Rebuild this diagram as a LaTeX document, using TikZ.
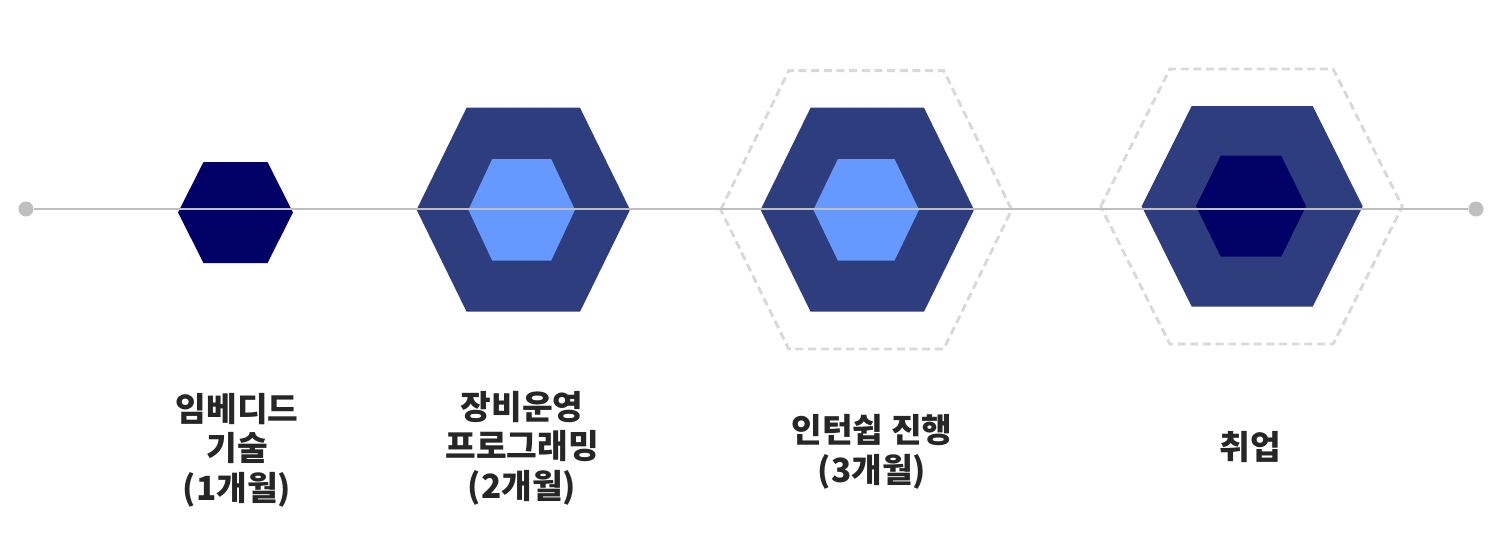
\documentclass[tikz,border=0pt]{standalone}
\usepackage{fontspec}
\setmainfont{Noto Sans CJK KR}
\usepackage{tikz}
\definecolor{navy}{RGB}{0,0,102}
\definecolor{hexblue}{RGB}{46,61,126}
\definecolor{skyblue}{RGB}{102,153,255}
\definecolor{guidegray}{RGB}{191,191,191}
\definecolor{dashgray}{RGB}{217,217,217}
\definecolor{labeltext}{RGB}{38,38,38}

% flat-topped hexagon around the origin: style, half width, half height, half top edge
\newcommand{\hexpath}[4]{%
  \path[#1] (-#2,0) -- (-#4,-#3) -- (#4,-#3) -- (#2,0) -- (#4,#3) -- (-#4,#3) -- cycle;}

\begin{document}
\begin{tikzpicture}[x=0.75pt, y=-0.75pt,
        hexdark/.style={fill=navy},
        hexmid/.style={fill=hexblue},
        hexlight/.style={fill=skyblue},
        hexring/.style={draw=dashgray, line width=2.2pt, dash pattern=on 6pt off 3.5pt},
        guide/.style={draw=guidegray, line width=1.5pt},
        dot/.style={circle, fill=guidegray, minimum size=11.25pt, inner sep=0pt},
        label/.style={align=center, text=labeltext, font=\fontsize{25}{29.6}\selectfont\bfseries}
    ]
        \useasboundingbox (0,0) rectangle (1502,551);

        % Hexagons
        \begin{scope}[shift={(235.5,212.5)}]
            \hexpath{hexdark}{57.5}{50.5}{32}
        \end{scope}
        \begin{scope}[shift={(523.3,209.7)}]
            \hexpath{hexmid}{106.7}{102}{56.7}
        \end{scope}
        \begin{scope}[shift={(521.7,209.8)}]
            \hexpath{hexlight}{53.3}{50.8}{29.5}
        \end{scope}
        \begin{scope}[shift={(866.2,209.8)}]
            \hexpath{hexring}{145.5}{139.2}{77.5}
        \end{scope}
        \begin{scope}[shift={(867.3,209.7)}]
            \hexpath{hexmid}{106.7}{102}{56.7}
        \end{scope}
        \begin{scope}[shift={(866.2,209.8)}]
            \hexpath{hexlight}{52.8}{50.8}{28.3}
        \end{scope}
        \begin{scope}[shift={(1251.5,206.5)}]
            \hexpath{hexring}{150.8}{137.5}{81.7}
        \end{scope}
        \begin{scope}[shift={(1252.2,206.3)}]
            \hexpath{hexmid}{110.5}{100.3}{60.5}
        \end{scope}
        \begin{scope}[shift={(1251,206.2)}]
            \hexpath{hexdark}{55}{50.5}{30.2}
        \end{scope}

        % Timeline
        \node[dot] (start) at (26,209) {};
        \node[dot] (end) at (1476,209) {};
        \draw[guide] (start) -- (end);

        % Labels
        \node[label] (embedded) at (237,450) {임베디드\\기술\\(1개월)};
        \node[label] (equipment) at (522,448) {장비운영\\프로그래밍\\(2개월)};
        \node[label] (intern) at (872,452) {인턴쉽 진행\\(3개월)};
        \node[label] (job) at (1250,447) {취업};

    \end{tikzpicture}
\end{document}
